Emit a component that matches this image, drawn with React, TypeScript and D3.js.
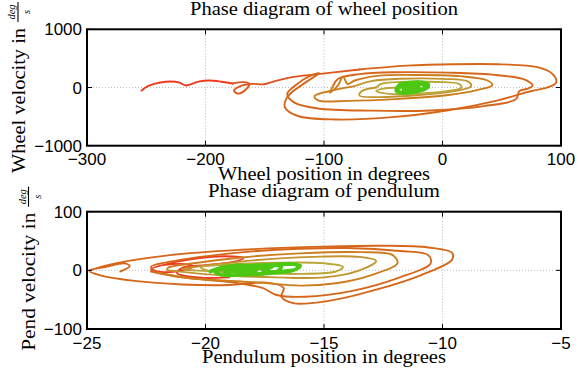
import React from 'react';
import * as d3 from 'd3';

type P = [number, number];

// ---------- tick values ----------
const wheelXTicks = [-300, -200, -100, 0, 100];
const wheelYTicks = [-1000, 0, 1000];
const pendXTicks = [-25, -20, -15, -10, -5];
const pendYTicks = [-100, 0, 100];

// ---------- wheel phase trajectory (deg, deg/s) ----------
const wheelRed: P[] = [[-254, -55], [-251, -5], [-246, 45], [-238, 85], [-230, 104], [-222, 85], [-217, 36], [-212, 58], [-205, 105], [-197, 120], [-186, 98], [-177, 68]];
const wheelRedOrange: P[] = [[-177, 68], [-168, 92], [-163, 62], [-166, -35], [-172, -105], [-176, -55], [-170, 28], [-160, 62], [-151, 55], [-142, 105], [-128, 175], [-105, 230], [-70, 310]];
const wheelOrange1: P[] = [[-70, 310], [-30, 375], [10, 400], [50, 398], [80, 350], [93, 230], [96, 90], [90, 10], [75, -60], [45, -230], [5, -390], [-40, -505], [-90, -550], [-122, -490], [-133, -340], [-132, -200], [-126, -60]];
const wheelOrange2: P[] = [[-126, -60], [-114, 110], [-104, 245], [-110, 215], [-124, 40], [-131, -110], [-125, -260], [-105, -360], [-60, -398], [-10, -395], [35, -320], [62, -200], [65, -60], [72, -20], [76, 30], [70, 130], [45, 215], [5, 255], [-40, 262], [-70, 230], [-88, 150], [-92, 40]];
const wheelOlive1: P[] = [[-92, 40], [-95, -90], [-88, 40], [-84, 190], [-80, 60], [-74, 120], [-55, 200], [-20, 215], [15, 195], [38, 120], [42, 40], [30, -40], [5, -130], [-40, -200], [-80, -230], [-105, -220], [-108, -150], [-95, -60], [-75, 20]];
const wheelOlive2: P[] = [[-75, 20], [-60, 110], [-35, 150], [0, 148], [22, 100], [24, 20], [10, -60], [-20, -130], [-55, -165], [-70, -140], [-68, -60], [-56, 0]];
const wheelOlive3: P[] = [[-56, 0], [-52, 60], [-35, 95], [-5, 95], [14, 60], [16, 0], [5, -60], [-20, -105], [-45, -110], [-56, -60], [-50, -20], [-38, 0]];
const wheelGreen: P[] = [[-38, 0], [-36, 55], [-28, 85], [-18, 90], [-12, 55], [-13, 0], [-20, -55], [-30, -95], [-38, -75], [-39, -25], [-34, 35], [-25, 75], [-16, 75], [-12, 30], [-15, -30], [-24, -80], [-33, -95], [-39, -50], [-37, 10], [-30, 60], [-21, 80], [-13, 60], [-12, 10], [-18, -50], [-27, -90], [-36, -80], [-38, -30], [-33, 25], [-25, 55], [-17, 50], [-15, 10], [-20, -40], [-28, -60], [-33, -40], [-30, 0], [-24, 20], [-20, 0], [-25, -30], [-31, -20]];

// ---------- pendulum phase trajectory (deg, deg/s) ----------
const pendRed: P[] = [[-21.8, 9], [-21.0, 11], [-20.5, 7], [-21.0, 0], [-21.8, -3], [-22.3, 2], [-21.5, 12], [-20.4, 20], [-19.2, 24], [-18.4, 21], [-18.9, 14], [-20.0, 9], [-21.0, 4], [-21.2, -5], [-20.6, -11], [-20.0, -13], [-19.0, -12]];
const pendOrange1: P[] = [[-23.6, -2], [-23.2, 7], [-23.4, 12], [-24.2, 6], [-24.9, -1], [-24.4, -9], [-23.0, -18], [-21.0, -24], [-19.0, -25], [-17.4, -21], [-16.7, -30], [-16.8, -45], [-16.3, -56], [-14.8, -52], [-12.8, -33], [-10.9, -8], [-9.6, 18], [-9.6, 30], [-10.6, 39], [-12.5, 42], [-15.5, 40], [-18.5, 35], [-21.5, 26], [-23.8, 12], [-24.9, 0]];
const pendOrange2: P[] = [[-22.3, -2], [-21.0, -12], [-19.0, -20], [-17.6, -30], [-17.0, -42], [-15.8, -45], [-13.8, -35], [-11.8, -12], [-10.5, 12], [-10.6, 26], [-11.8, 33], [-14.0, 38], [-17.0, 35], [-19.6, 26], [-21.6, 14], [-22.3, 6], [-22.0, -4]];
const pendOlive1: P[] = [[-22.0, -4], [-20.5, -14], [-18.0, -20], [-16.0, -26], [-14.5, -22], [-13.0, -8], [-11.9, 12], [-12.1, 26], [-13.5, 31], [-16.0, 29], [-18.5, 22], [-20.5, 12], [-21.6, 4], [-21.6, 0]];
const pendOlive2: P[] = [[-21.6, 0], [-19.5, -8], [-17.0, -12], [-15.0, -12], [-13.5, 0], [-12.8, 16], [-13.5, 23], [-15.5, 23], [-18.0, 17], [-20.0, 8], [-21.0, 2], [-20.5, 0]];
const pendOlive3: P[] = [[-20.5, 0], [-18.5, -4], [-16.0, -6], [-14.5, -2], [-14.2, 6], [-15.0, 12], [-17.0, 13], [-19.0, 10], [-20.2, 5], [-19.8, -2]];
const pendGreen: P[] = [[-19.8, -2], [-19.2, 6], [-18.3, 8], [-17.8, 2], [-18.4, -6], [-19.3, -8], [-19.6, -2], [-18.8, 5], [-17.6, 9], [-16.8, 6], [-17.0, -2], [-18.0, -7], [-19.0, -6], [-18.8, 1], [-17.8, 7], [-16.6, 11], [-16.0, 8], [-16.3, 0], [-17.3, -5], [-18.3, -4], [-18.1, 3], [-17.0, 9], [-16.2, 10], [-16.1, 4], [-16.8, -2], [-17.6, 0], [-17.2, 5], [-18.6, -1], [-19.2, -3]];

// ---------- colours along time ----------
const timeColors = ['#ee3b1e', '#e0551c', '#d6671a', '#cc7d1e', '#c29430', '#b9a838', '#4cc814'];

const wheelSeries = [wheelRed, wheelRedOrange, wheelOrange1, wheelOrange2, wheelOlive1, wheelOlive2, wheelOlive3, wheelGreen];
const wheelColorIdx = [0, 1, 2, 2, 3, 4, 5, 6];
const pendSeries = [pendRed, pendOrange1, pendOrange2, pendOlive1, pendOlive2, pendOlive3, pendGreen];
const pendColorIdx = [0, 2, 2, 3, 4, 5, 6];

const SERIF = '"Liberation Serif", "DejaVu Serif", serif';
const SANS = '"Liberation Sans", Arial, sans-serif';

const fmt = (v: number) => String(v).replace('-', '\u2212');

interface PanelProps {
  x0: number; x1: number; y0: number; y1: number;
  xDomain: [number, number]; yDomain: [number, number];
  xTicks: number[]; yTicks: number[];
  series: P[][]; colorIdx: number[];
  title: string; titleY: number; titleLen: number;
  xlabel: string; xlabelY: number; xlabelLen: number;
  ylabel: string; ylabelX: number; ylabelY: number; ylabelLen: number;
}

function Panel(p: PanelProps) {
  const x = d3.scaleLinear().domain(p.xDomain).range([p.x0, p.x1]);
  const y = d3.scaleLinear().domain(p.yDomain).range([p.y1, p.y0]);
  const line = d3.line<P>().x(d => x(d[0])).y(d => y(d[1])).curve(d3.curveCatmullRom.alpha(0.5));
  const cx = (p.x0 + p.x1) / 2;
  const tl = 5;
  const fracStart = p.ylabelLen + 6;
  const fracW = 20;
  return (
    <g>
      {p.xTicks.slice(1, -1).map(t => (
        <line key={'gx' + t} x1={x(t)} x2={x(t)} y1={p.y0} y2={p.y1} stroke="#aaa" strokeWidth={0.8} strokeDasharray="1,2" />
      ))}
      {p.yTicks.slice(1, -1).map(t => (
        <line key={'gy' + t} x1={p.x0} x2={p.x1} y1={y(t)} y2={y(t)} stroke="#aaa" strokeWidth={0.8} strokeDasharray="1,2" />
      ))}
      {p.series.map((s, i) => (
        <path key={'s' + i} d={line(s) || ''} fill="none" stroke={timeColors[p.colorIdx[i]]}
          strokeWidth={p.colorIdx[i] === 6 ? 3.6 : 1.9} strokeLinejoin="round" strokeLinecap="round" />
      ))}
      {p.xTicks.map(t => (
        <g key={'tx' + t}>
          <line x1={x(t)} x2={x(t)} y1={p.y1} y2={p.y1 - tl} stroke="#000" strokeWidth={1} />
          <line x1={x(t)} x2={x(t)} y1={p.y0} y2={p.y0 + tl} stroke="#000" strokeWidth={1} />
          <text x={x(t)} y={p.y1 + 19.5} textAnchor="middle" fontFamily={SANS} fontSize={17} fill="#000">{fmt(t)}</text>
        </g>
      ))}
      {p.yTicks.map(t => (
        <g key={'ty' + t}>
          <line x1={p.x0} x2={p.x0 + tl} y1={y(t)} y2={y(t)} stroke="#000" strokeWidth={1} />
          <line x1={p.x1} x2={p.x1 - tl} y1={y(t)} y2={y(t)} stroke="#000" strokeWidth={1} />
          <text x={p.x0 - 5} y={y(t)} dy="0.36em" textAnchor="end" fontFamily={SANS} fontSize={17} fill="#000">{fmt(t)}</text>
        </g>
      ))}
      <rect x={p.x0} y={p.y0} width={p.x1 - p.x0} height={p.y1 - p.y0} fill="none" stroke="#000" strokeWidth={2} />
      <text x={cx} y={p.titleY} textAnchor="middle" fontFamily={SERIF} fontSize={18} textLength={p.titleLen} lengthAdjust="spacingAndGlyphs" fill="#000">{p.title}</text>
      <text x={cx} y={p.xlabelY} textAnchor="middle" fontFamily={SERIF} fontSize={18} textLength={p.xlabelLen} lengthAdjust="spacingAndGlyphs" fill="#000">{p.xlabel}</text>
      <g transform={`translate(${p.ylabelX},${p.ylabelY}) rotate(-90)`}>
        <text x={0} y={0} fontFamily={SERIF} fontSize={18} textLength={p.ylabelLen} lengthAdjust="spacingAndGlyphs" fill="#000">{p.ylabel}</text>
        <line x1={fracStart} x2={fracStart + fracW} y1={-6.5} y2={-6.5} stroke="#000" strokeWidth={1.1} />
        <text x={fracStart + fracW / 2} y={-9.5} textAnchor="middle" fontFamily={SERIF} fontStyle="italic" fontSize={10.5} fill="#000">deg</text>
        <text x={fracStart + fracW / 2} y={5.5} textAnchor="middle" fontFamily={SERIF} fontStyle="italic" fontSize={10.5} fill="#000">s</text>
      </g>
    </g>
  );
}

export default function App() {
  return (
    <svg width={577} height={373} style={{ position: 'absolute', left: 0, top: 0, background: '#fff' }}>
      <rect x={0} y={0} width={577} height={373} fill="#fff" />
      <Panel x0={87} x1={561} y0={29.3} y1={145.7} xDomain={[-300, 100]} yDomain={[-1000, 1000]}
        xTicks={wheelXTicks} yTicks={wheelYTicks} series={wheelSeries} colorIdx={wheelColorIdx}
        title="Phase diagram of wheel position" titleY={15} titleLen={268}
        xlabel="Wheel position in degrees" xlabelY={180} xlabelLen={212}
        ylabel="Wheel velocity in" ylabelX={24.5} ylabelY={173} ylabelLen={145} />
      <Panel x0={87} x1={561} y0={211.7} y1={329} xDomain={[-25, -5]} yDomain={[-100, 100]}
        xTicks={pendXTicks} yTicks={pendYTicks} series={pendSeries} colorIdx={pendColorIdx}
        title="Phase diagram of pendulum" titleY={197} titleLen={232}
        xlabel="Pendulum position in degrees" xlabelY={362.5} xlabelLen={244}
        ylabel="Pend velocity in" ylabelX={35} ylabelY={350.7} ylabelLen={138} />
    </svg>
  );
}
